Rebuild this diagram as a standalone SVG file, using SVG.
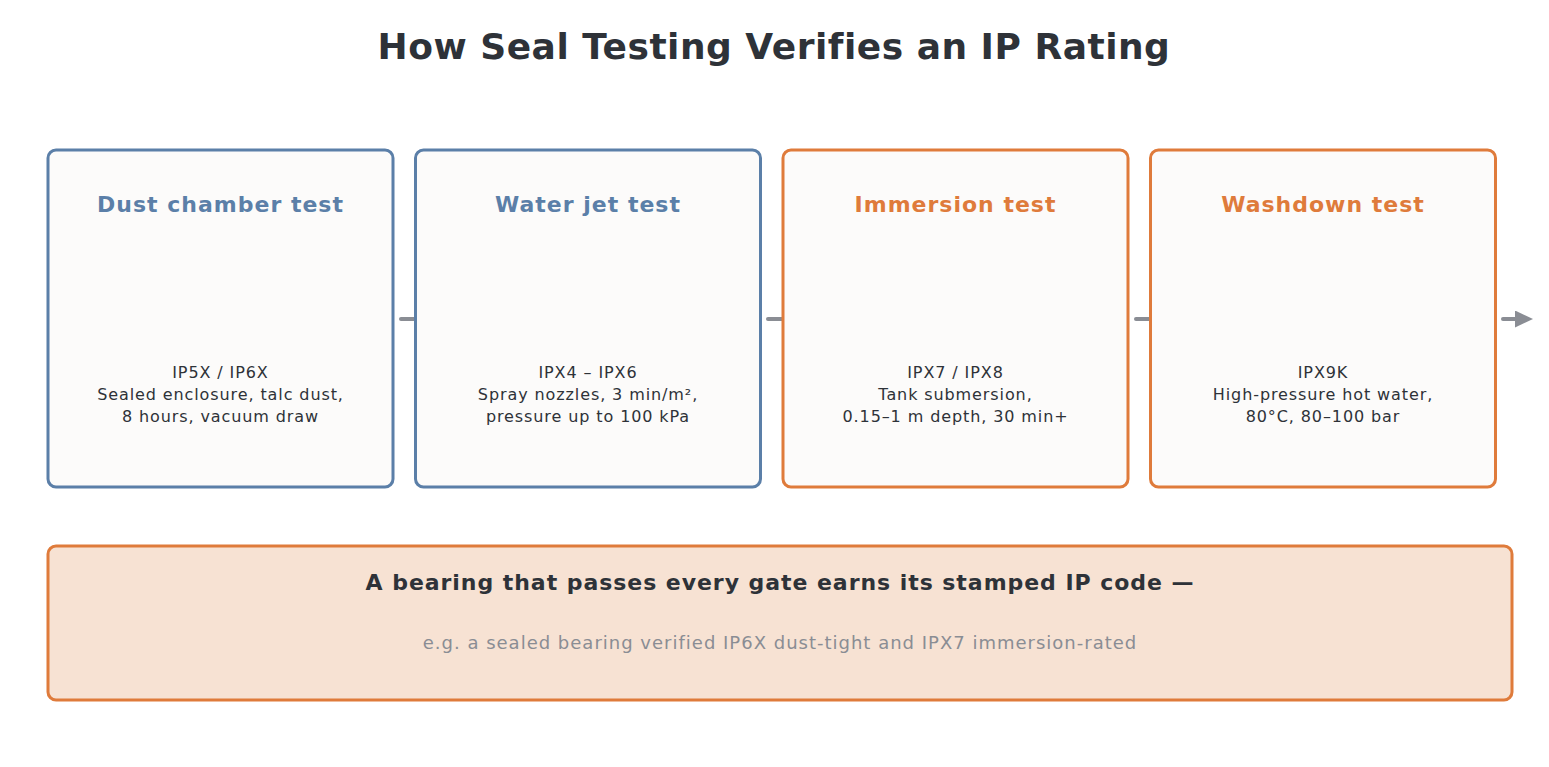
<svg xmlns="http://www.w3.org/2000/svg" width="1549" height="767" viewBox="0 0 1549 767">
<defs>
<style>
text{font-family:"DejaVu Sans","Liberation Sans",sans-serif;text-anchor:middle}
.title{font-size:36px;font-weight:bold;fill:#2e3238;letter-spacing:0.5px}
.card{fill:#fcfbfa;stroke-width:3}
.blue{stroke:#5b7fa8}
.orange{stroke:#df7b3b}
.ht{font-size:22px;font-weight:bold;letter-spacing:1px}
.hb{fill:#5b7fa8}
.ho{fill:#df7b3b}
.body{font-size:16px;fill:#2e3238;letter-spacing:0.9px}
.conn{stroke:#8a8d94;stroke-width:4;stroke-linecap:round;fill:none}
.sum{fill:#f7e2d3;stroke:#df7b3b;stroke-width:3}
.st{font-size:22px;font-weight:bold;fill:#2e3238;letter-spacing:0.95px}
.sub{font-size:18px;fill:#8a8d94;letter-spacing:1px}
</style>
<marker id="arr" markerWidth="18" markerHeight="17" refX="0" refY="8.5" orient="auto" markerUnits="userSpaceOnUse">
<path d="M0,0 L18,8.5 L0,17 Z" fill="#8a8d94"/>
</marker>
</defs>
<rect width="1549" height="767" fill="#ffffff"/>
<text class="title" x="774" y="59">How Seal Testing Verifies an IP Rating</text>
<g id="connectors">
<line class="conn" x1="401" y1="319" x2="420" y2="319" marker-end="url(#arr)"/>
<line class="conn" x1="768" y1="319" x2="788" y2="319" marker-end="url(#arr)"/>
<line class="conn" x1="1136" y1="319" x2="1155" y2="319" marker-end="url(#arr)"/>
<line class="conn" x1="1503" y1="319" x2="1515" y2="319" marker-end="url(#arr)"/>
</g>
<g id="dust">
<rect class="card blue" x="48" y="150" width="345" height="337" rx="8"/>
<text class="ht hb" x="220.5" y="212">Dust chamber test</text>
<text class="body" x="220.5" y="378">IP5X / IP6X</text>
<text class="body" x="220.5" y="400">Sealed enclosure, talc dust,</text>
<text class="body" x="220.5" y="422">8 hours, vacuum draw</text>
</g>
<g id="waterjet">
<rect class="card blue" x="415.5" y="150" width="345" height="337" rx="8"/>
<text class="ht hb" x="588" y="212">Water jet test</text>
<text class="body" x="588" y="378">IPX4 – IPX6</text>
<text class="body" x="588" y="400">Spray nozzles, 3 min/m²,</text>
<text class="body" x="588" y="422">pressure up to 100 kPa</text>
</g>
<g id="immersion">
<rect class="card orange" x="783" y="150" width="345" height="337" rx="8"/>
<text class="ht ho" x="955.5" y="212">Immersion test</text>
<text class="body" x="955.5" y="378">IPX7 / IPX8</text>
<text class="body" x="955.5" y="400">Tank submersion,</text>
<text class="body" x="955.5" y="422">0.15–1 m depth, 30 min+</text>
</g>
<g id="washdown">
<rect class="card orange" x="1150.5" y="150" width="345" height="337" rx="8"/>
<text class="ht ho" x="1323" y="212">Washdown test</text>
<text class="body" x="1323" y="378">IPX9K</text>
<text class="body" x="1323" y="400">High-pressure hot water,</text>
<text class="body" x="1323" y="422">80°C, 80–100 bar</text>
</g>
<g id="summary">
<rect class="sum" x="48" y="546" width="1464" height="154" rx="8"/>
<text class="st" x="780" y="590">A bearing that passes every gate earns its stamped IP code —</text>
<text class="sub" x="780" y="649">e.g. a sealed bearing verified IP6X dust-tight and IPX7 immersion-rated</text>
</g>
</svg>
